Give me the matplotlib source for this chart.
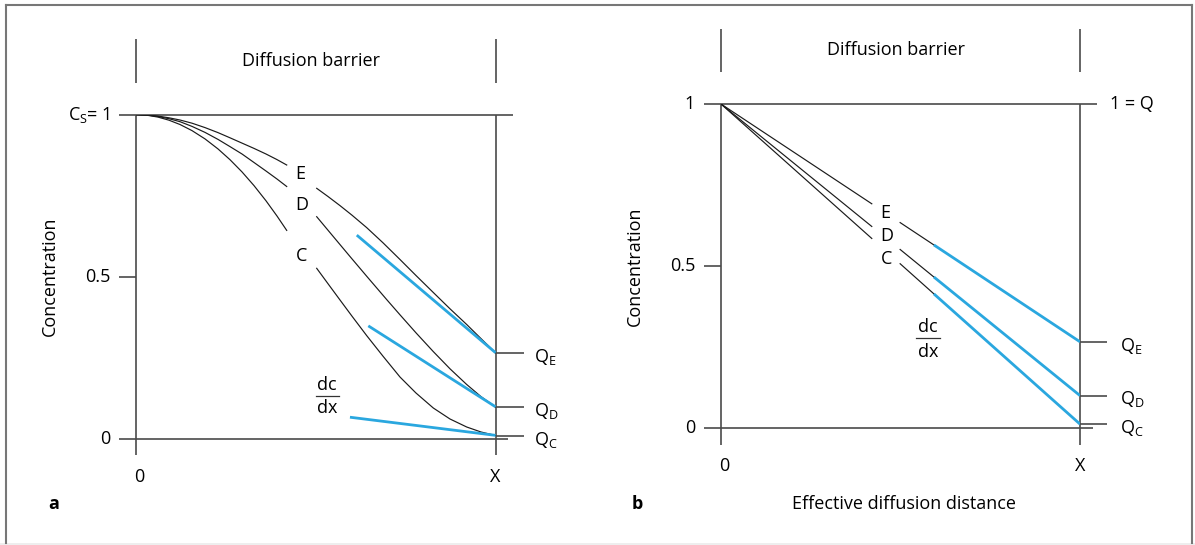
import numpy as np
import matplotlib.pyplot as plt
from matplotlib.patches import Rectangle

plt.rcParams['font.family'] = ['Open Sans', 'DejaVu Sans']
plt.rcParams['mathtext.fontset'] = 'custom'
plt.rcParams['mathtext.rm'] = 'Open Sans'
plt.rcParams['mathtext.it'] = 'Open Sans'

# ---- panel a: concentration profiles (curved), x = 0..X, y = 0..1
seg1_x = [0, 0.0306, 0.0612, 0.0918, 0.1224, 0.1557, 0.1919, 0.2280,
          0.2614, 0.2948, 0.3281, 0.3615, 0.3921, 0.4191]
a_E1_y = [1, 0.9988, 0.9954, 0.9901, 0.9833, 0.9735, 0.9599, 0.9444,
          0.9284, 0.9120, 0.8957, 0.8784, 0.8611, 0.8444]
a_D1_y = [1, 0.9985, 0.9941, 0.9873, 0.9781, 0.9636, 0.9451, 0.9235,
          0.9012, 0.8784, 0.8522, 0.8259, 0.8012, 0.7781]
a_C1_y = [1, 0.9981, 0.9923, 0.9827, 0.9694, 0.9506, 0.9250, 0.8941,
          0.8608, 0.8231, 0.7809, 0.7340, 0.6870, 0.6426]

a_E2_x = [0.5025, 0.5339, 0.5673, 0.6007, 0.6415, 0.6869, 0.7341,
          0.7786, 0.8268, 0.8732, 0.9196, 0.9594, 1.0]
a_E2_y = [0.7725, 0.7472, 0.7191, 0.6895, 0.6512, 0.6043, 0.5528,
          0.5034, 0.4509, 0.4006, 0.3522, 0.3086, 0.2648]

a_D2_x = [0.5025, 0.5478, 0.5951, 0.6424, 0.6972, 0.7341, 0.7786,
          0.8268, 0.8732, 0.9196, 0.9594, 1.0]
a_D2_y = [0.6849, 0.6247, 0.5620, 0.5000, 0.4290, 0.3821, 0.3265,
          0.2685, 0.2154, 0.1670, 0.1296, 0.0975]

a_C2_x = [0.5025, 0.5339, 0.5673, 0.6007, 0.6415, 0.6869, 0.7341,
          0.7786, 0.8268, 0.8732, 0.9196, 0.9594, 1.0]
a_C2_y = [0.5256, 0.4781, 0.4278, 0.3778, 0.3179, 0.2543, 0.1901,
          0.1407, 0.0944, 0.0605, 0.0358, 0.0204, 0.0096]

# tangents dc/dx at X (blue)
a_tan_x = {'E': [0.614, 1.0], 'D': [0.646, 1.0], 'C': [0.595, 1.0]}
a_tan_y = {'E': [0.628, 0.265], 'D': [0.348, 0.098], 'C': [0.066, 0.010]}
a_Q = {'E': 0.265, 'D': 0.098, 'C': 0.008}

# ---- panel b: linear profiles
b_x = [0, 0.42, 0.499, 0.593, 1.0]   # start, label gap start/end, start of blue, X
b_y = {'E': [1, 0.692, 0.634, 0.565, 0.266],
       'D': [1, 0.622, 0.551, 0.466, 0.100],
       'C': [1, 0.585, 0.507, 0.414, 0.012]}
b_Q = {'E': 0.266, 'D': 0.100, 'C': 0.012}

yticks = [0, 0.5, 1]
ytick_a = ['0', '0.5', r'$\mathregular{C_S}$= 1']
ytick_b = ['0', '0.5', '1']

AX = '#4a4a4a'
CURVE = '#1a1a1a'
BLUE = '#2aa7df'
FS = 13

W, H = 1195, 545
fig = plt.figure(figsize=(W / 100, H / 100), dpi=100)


def add_panel(x0, x1, y0, y1):
    # pixel positions of data x=0, x=1, y=0, y=1
    ax = fig.add_axes([x0 / W, 1 - y0 / H, (x1 - x0) / W, (y0 - y1) / H])
    ax.set_xlim(0, 1)
    ax.set_ylim(0, 1)
    ax.axis('off')
    return ax


def frame(ax, top_y, ticklabels):
    kw = dict(color=AX, lw=1.2, clip_on=False, solid_capstyle='butt')
    ax.plot([-0.048, 1.048], [1, 1], **kw)
    ax.plot([-0.048, 1.035], [0, 0], **kw)
    ax.plot([-0.048, 0], [0.5, 0.5], **kw)
    ax.plot([0, 0], [1, -0.052], **kw)
    ax.plot([1, 1], [1, -0.052], **kw)
    for xx in (0, 1):
        ax.plot([xx, xx], top_y, **kw)
    ax.text(0.487, np.mean(top_y), 'Diffusion barrier', ha='center', va='center', fontsize=FS)
    for v, lab in zip(yticks, ticklabels):
        ax.text(-0.072, v, lab, ha='right', va='center', fontsize=FS)
    ax.text(0.008, -0.117, '0', ha='center', va='center', fontsize=FS)
    ax.text(1.0, -0.117, 'X', ha='center', va='center', fontsize=FS)
    ax.text(-0.24, 0.5, 'Concentration', rotation=90, ha='center', va='center', fontsize=FS)
    return kw


def qlabels(ax, qvals, tick_end, text_x, kw):
    for k, v in qvals.items():
        ax.plot([1, tick_end], [v, v], **kw)
        ax.text(text_x, v - 0.012, r'$\mathregular{Q_{%s}}$' % k, ha='left', va='center', fontsize=FS)


def dcdx(ax, xc, y_dc, y_bar, y_dx, xspan):
    ax.text(xc, y_dc, 'dc', ha='center', va='center', fontsize=FS)
    ax.plot(xspan, [y_bar, y_bar], color='#333333', lw=0.9, clip_on=False)
    ax.text(xc, y_dx, 'dx', ha='center', va='center', fontsize=FS)


# ---------------- panel a
axa = add_panel(136, 495.6, 438.6, 114.6)
kw = frame(axa, [1.233, 1.097], ytick_a)
for y1, x2, y2 in [(a_E1_y, a_E2_x, a_E2_y),
                   (a_D1_y, a_D2_x, a_D2_y),
                   (a_C1_y, a_C2_x, a_C2_y)]:
    axa.plot(seg1_x, y1, color=CURVE, lw=0.85)
    axa.plot(x2, y2, color=CURVE, lw=0.85)
for k in ['E', 'D', 'C']:
    axa.plot(a_tan_x[k], a_tan_y[k], color=BLUE, lw=2.0, solid_capstyle='butt')
qlabels(axa, a_Q, 1.08, 1.107, kw)
for k, (lx, ly) in {'E': (0.457, 0.817), 'D': (0.462, 0.721), 'C': (0.461, 0.565)}.items():
    axa.text(lx, ly, k, ha='center', va='center', fontsize=FS)
dcdx(axa, 0.532, 0.165, 0.132, 0.094, [0.501, 0.565])
axa.text(-0.229, -0.202, 'a', ha='center', va='center', fontsize=FS, fontweight='bold')

# ---------------- panel b
axb = add_panel(721, 1080, 428, 104)
kw = frame(axb, [1.233, 1.099], ytick_b)
for k in ['E', 'D', 'C']:
    ys = b_y[k]
    axb.plot(b_x[:2], ys[:2], color=CURVE, lw=0.85)
    axb.plot(b_x[2:4], ys[2:4], color=CURVE, lw=0.85)
    axb.plot(b_x[3:], ys[3:], color=BLUE, lw=2.0, solid_capstyle='butt')
qlabels(axb, b_Q, 1.074, 1.111, kw)
axb.text(1.084, 1.0, '1 = Q', ha='left', va='center', fontsize=FS)
for k, (lx, ly) in {'E': (0.457, 0.663), 'D': (0.462, 0.594), 'C': (0.462, 0.523)}.items():
    axb.text(lx, ly, k, ha='center', va='center', fontsize=FS)
dcdx(axb, 0.577, 0.311, 0.277, 0.235, [0.543, 0.610])
axb.text(-0.234, -0.235, 'b', ha='center', va='center', fontsize=FS, fontweight='bold')
axb.text(0.509, -0.235, 'Effective diffusion distance', ha='center', va='center', fontsize=FS)

# outer frame: left, top and right edges, light strip at the bottom
for xs, ys in [([6.5, 6.5], [543, 5]), ([6.5, 1192], [5, 5]), ([1192, 1192], [5, 543])]:
    fig.add_artist(plt.Line2D([x / W for x in xs], [1 - y / H for y in ys],
                              transform=fig.transFigure, color='#777777', lw=1.5))
fig.patches.append(Rectangle((0, 0), 1, 2.5 / H, transform=fig.transFigure,
                             facecolor='#eeeeee', edgecolor='none'))

fig.savefig('out.png', dpi=100)
